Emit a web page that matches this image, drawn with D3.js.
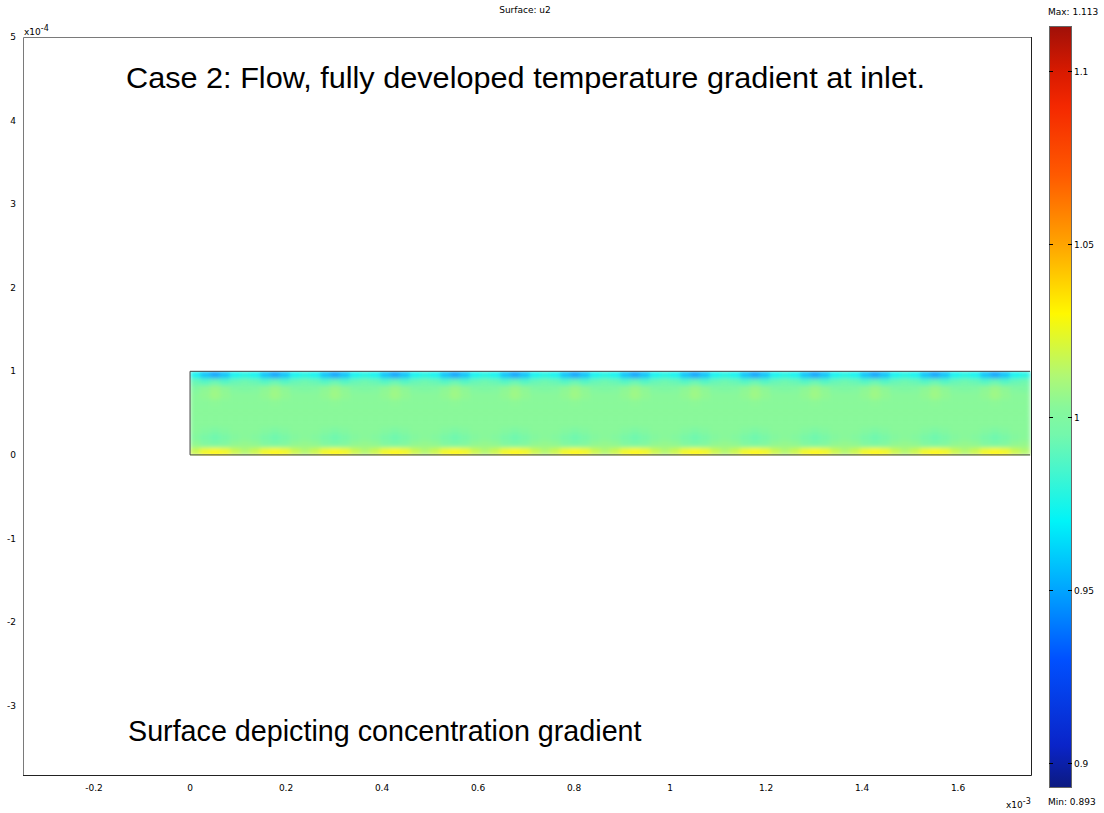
<!DOCTYPE html>
<html>
<head>
<meta charset="utf-8">
<script src="https://cdn.jsdelivr.net/npm/d3@7"></script>
<style>
  body { margin: 0; background: #fff; }
  svg { display: block; }
  .small { font-family: 'DejaVu Sans', sans-serif; font-size: 9px; fill: #000; }
  .big { font-family: 'Liberation Sans', Arial, sans-serif; fill: #000; }
</style>
</head>
<body>
<div id="app"></div>
<script>
(function (d3) {
  'use strict'

  // axis ticks (x in 1e-3, y in 1e-4)
  const xTicks = [-0.2, 0, 0.2, 0.4, 0.6, 0.8, 1, 1.2, 1.4, 1.6]
  const yTicks = [-3, -2, -1, 0, 1, 2, 3, 4, 5]
  const xDomain = [-0.348, 1.752]
  const yDomain = [-3.83, 5]

  // channel geometry
  const stripX = [0, 1.75]
  const stripY = [0, 1]
  const periods = 14

  // u2 values across one period of the channel, rows top -> bottom
  const tileRows = [
    [0.972, 0.958, 0.95, 0.958, 0.972, 0.976],
    [0.992, 0.988, 0.992, 0.988, 0.992, 0.994],
    [1.0, 1.004, 1.007, 1.004, 1.0, 0.999],
    [1.003, 1.005, 1.008, 1.005, 1.003, 1.003],
    [1.003, 1.003, 1.004, 1.003, 1.003, 1.003],
    [1.003, 1.003, 1.003, 1.003, 1.003, 1.003],
    [1.003, 1.003, 1.003, 1.003, 1.003, 1.003],
    [1.003, 1.003, 1.003, 1.003, 1.003, 1.003],
    [1.003, 1.001, 0.999, 1.001, 1.003, 1.003],
    [1.001, 0.997, 0.994, 0.997, 1.001, 1.003],
    [1.005, 1.001, 0.999, 1.001, 1.005, 1.006],
    [1.018, 1.027, 1.03, 1.027, 1.018, 1.013]
  ]

  // colour bar
  const cMin = 0.893
  const cMax = 1.113
  const cTicks = [0.9, 0.95, 1, 1.05, 1.1]
  const cStops = [0.893, 0.905, 0.93, 0.95, 0.97, 0.985, 0.995, 1.003, 1.012, 1.03, 1.05, 1.07, 1.09, 1.1, 1.113]
  const cColors = ['#0c1a80', '#0a24c8', '#0050ff', '#00a4ff', '#00f4f8', '#48f6cc', '#74f8ac', '#88f89a', '#b0f874', '#fff800', '#ffa400', '#ff5a00', '#f42800', '#d81a00', '#a01008']

  const w = 1104
  const h = 813

  const svg = d3.select('#app')
    .append('svg')
    .attr('width', w)
    .attr('height', h)

  const xScale = d3.scaleLinear().domain(xDomain).range([23, 1031])
  const yScale = d3.scaleLinear().domain(yDomain).range([775, 37])
  const color = d3.scaleLinear().domain(cStops).range(cColors).clamp(true)

  const defs = svg.append('defs')
  const blur = defs.append('filter')
    .attr('id', 'soft')
    .attr('filterUnits', 'objectBoundingBox')
    .attr('x', 0).attr('y', 0).attr('width', 1).attr('height', 1)
  blur.append('feGaussianBlur')
    .attr('stdDeviation', 2)
    .attr('edgeMode', 'duplicate')

  // surface cells
  const nCols = tileRows[0].length
  const colW = (stripX[1] - stripX[0]) / (periods * nCols)
  const rowH = (stripY[1] - stripY[0]) / tileRows.length
  const cells = []
  for (let p = 0; p < periods; p++) {
    tileRows.forEach(function (row, r) {
      row.forEach(function (v, c) {
        cells.push({ x0: stripX[0] + (p * nCols + c) * colW, y1: stripY[1] - r * rowH, v: v })
      })
    })
  }

  svg.append('g')
    .attr('filter', 'url(#soft)')
    .selectAll('rect')
    .data(cells)
    .enter()
    .append('rect')
    .attr('x', d => xScale(d.x0))
    .attr('y', d => yScale(d.y1))
    .attr('width', xScale(colW) - xScale(0) + 0.5)
    .attr('height', yScale(0) - yScale(rowH) + 0.5)
    .attr('fill', d => color(d.v))

  // channel outline
  svg.append('path')
    .attr('d', 'M' + xScale(stripX[1]) + ',' + yScale(stripY[1]) +
      'H' + xScale(stripX[0]) + 'V' + yScale(stripY[0]) + 'H' + xScale(stripX[1]))
    .attr('fill', 'none')
    .attr('stroke', '#444')
    .attr('stroke-width', 1)

  // frame
  svg.append('path')
    .attr('d', 'M23.5,775V37.5H1031')
    .attr('fill', 'none').attr('stroke', '#7a7a7a')
  svg.append('path')
    .attr('d', 'M23,775.5H1031.5V37')
    .attr('fill', 'none').attr('stroke', '#222')

  // tick labels
  svg.append('g').selectAll('text')
    .data(yTicks).enter().append('text')
    .attr('class', 'small')
    .attr('x', 16)
    .attr('y', d => yScale(d))
    .attr('dy', '0.35em')
    .attr('text-anchor', 'end')
    .text(d => d)

  svg.append('g').selectAll('text')
    .data(xTicks).enter().append('text')
    .attr('class', 'small')
    .attr('x', d => xScale(d))
    .attr('y', 791)
    .attr('text-anchor', 'middle')
    .text(d => d)

  const yExp = svg.append('text').attr('class', 'small').attr('x', 24).attr('y', 35)
  yExp.append('tspan').text('x10')
  yExp.append('tspan').attr('dy', -4).attr('font-size', '8px').text('-4')

  const xExp = svg.append('text').attr('class', 'small').attr('x', 1006).attr('y', 808)
  xExp.append('tspan').text('x10')
  xExp.append('tspan').attr('dy', -4).attr('font-size', '8px').text('-3')

  svg.append('text')
    .attr('class', 'small')
    .attr('x', 525)
    .attr('y', 13)
    .attr('text-anchor', 'middle')
    .text('Surface: u2')

  // annotations
  svg.append('text')
    .attr('class', 'big')
    .attr('x', 126)
    .attr('y', 88)
    .style('font-size', '30px')
    .attr('textLength', 799)
    .attr('lengthAdjust', 'spacingAndGlyphs')
    .text('Case 2: Flow, fully developed temperature gradient at inlet.')

  svg.append('text')
    .attr('class', 'big')
    .attr('x', 128)
    .attr('y', 741)
    .style('font-size', '28.7px')
    .text('Surface depicting concentration gradient')

  // colour bar
  const cScale = d3.scaleLinear().domain([cMin, cMax]).range([787, 26])
  const grad = defs.append('linearGradient')
    .attr('id', 'cbar')
    .attr('x1', 0).attr('y1', 1).attr('x2', 0).attr('y2', 0)
  grad.selectAll('stop')
    .data(cStops).enter().append('stop')
    .attr('offset', d => (d - cMin) / (cMax - cMin))
    .attr('stop-color', d => color(d))

  const cbX = 1049
  const cbW = 22
  svg.append('rect')
    .attr('x', cbX + 0.5)
    .attr('y', cScale(cMax) + 0.5)
    .attr('width', cbW)
    .attr('height', cScale(cMin) - cScale(cMax))
    .attr('fill', 'url(#cbar)')
    .attr('stroke', '#666')

  const ct = svg.append('g').selectAll('g')
    .data(cTicks).enter().append('g')
    .attr('transform', d => 'translate(0,' + Math.round(cScale(d)) + '.5)')
  ct.append('line').attr('x1', cbX).attr('x2', cbX + 4).attr('stroke', '#000')
  ct.append('line').attr('x1', cbX + cbW - 3).attr('x2', cbX + cbW + 1).attr('stroke', '#000')
  ct.append('text')
    .attr('class', 'small')
    .attr('x', cbX + cbW + 3)
    .attr('dy', '0.35em')
    .text(d => d)

  svg.append('text')
    .attr('class', 'small')
    .attr('x', 1048)
    .attr('y', 15)
    .text('Max: ' + cMax)

  svg.append('text')
    .attr('class', 'small')
    .attr('x', 1048)
    .attr('y', 805)
    .text('Min: ' + cMin)
}(d3))
</script>
</body>
</html>
